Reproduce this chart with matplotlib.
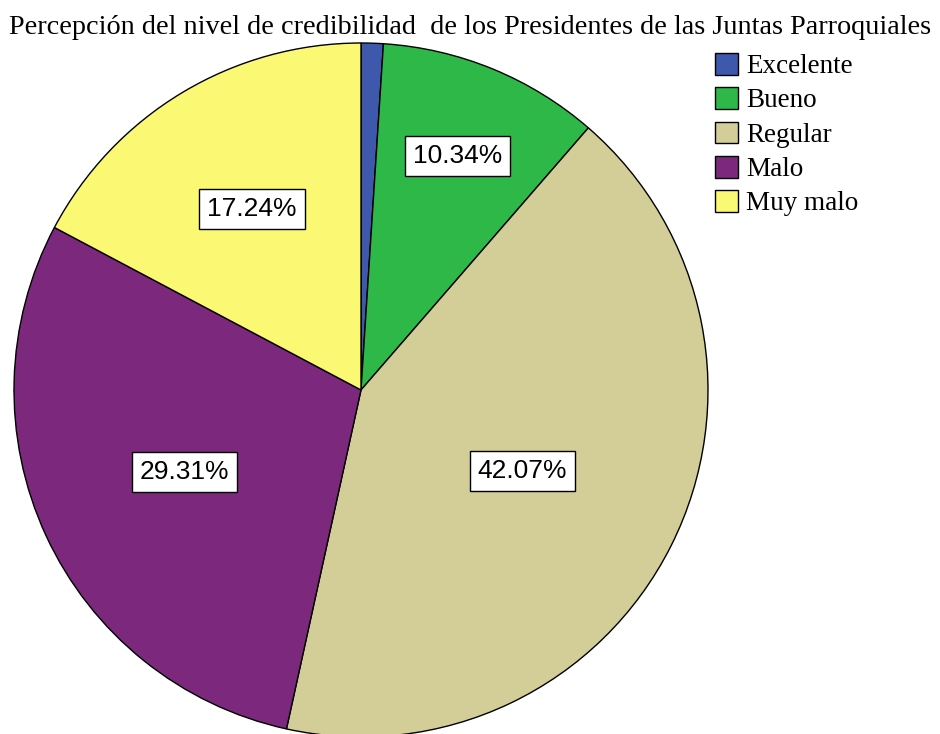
import numpy as np
import matplotlib.pyplot as plt

# datos
categorias = ['Excelente', 'Bueno', 'Regular', 'Malo', 'Muy malo']
porcentajes = [1.03, 10.34, 42.07, 29.31, 17.24]
colores = ['#3E58AC', '#2EB848', '#D3CE97', '#7C287D', '#FBF873']
titulo = 'Percepción del nivel de credibilidad  de los Presidentes de las Juntas Parroquiales'

# radio relativo de cada etiqueta (None = sin etiqueta)
radio_etiqueta = [None, 0.73, 0.52, 0.56, 0.61]

fig = plt.figure(figsize=(9.4, 7.34), dpi=100)
ax = fig.add_axes([0, 0, 1, 1])

centro = (361, 344)
radio = 347
wedges, _ = ax.pie(porcentajes, colors=colores, startangle=90, counterclock=False,
                   center=centro, radius=radio, frame=True,
                   wedgeprops=dict(edgecolor='black', linewidth=1.0))
ax.set_xlim(0, 940)
ax.set_ylim(0, 734)
ax.set_aspect('equal')
ax.axis('off')

fuente_pct = ['Liberation Sans Narrow', 'Liberation Sans', 'DejaVu Sans']
for w, v, r in zip(wedges, porcentajes, radio_etiqueta):
    if r is None:
        continue
    ang = np.deg2rad((w.theta1 + w.theta2) / 2)
    x = centro[0] + r * radio * np.cos(ang)
    y = centro[1] + r * radio * np.sin(ang)
    ax.text(x, y, f'{v:.2f}%', ha='center', va='center', fontsize=19,
            family=fuente_pct,
            bbox=dict(boxstyle='square,pad=0.3', fc='white', ec='black', lw=1))

fig.text(0.5, 1 - 27 / 734, titulo, ha='center', va='center',
         family='Liberation Serif', fontsize=20.3)

ax.legend(wedges, categorias, loc='upper left',
          bbox_to_anchor=(715 / 940, 1 - 53 / 734), frameon=False,
          prop=dict(family='Liberation Serif', size=19.5),
          handlelength=0.85, handleheight=0.85, handletextpad=0.3,
          labelspacing=0.3, borderpad=0, borderaxespad=0)

fig.savefig('out.png', dpi=100)
